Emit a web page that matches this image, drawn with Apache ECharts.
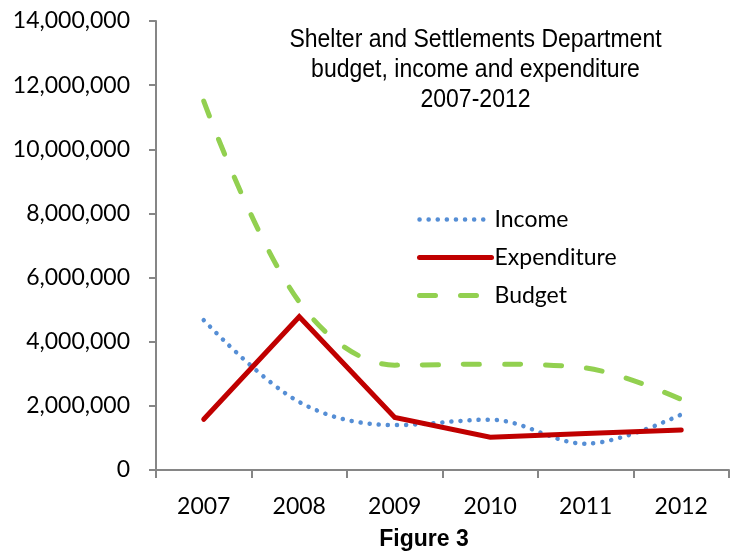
<!DOCTYPE html>
<html>
<head>
<meta charset="utf-8">
<script src="https://cdn.jsdelivr.net/npm/echarts@6/dist/echarts.min.js"></script>
<style>
  html, body { margin: 0; padding: 0; background: #fff; }
  #chart { width: 731px; height: 552px; }
</style>
</head>
<body>
<div id="chart"></div>
<script>
// Department finances by year
const years = ['2007', '2008', '2009', '2010', '2011', '2012'];
const income = [4670000, 2120000, 1400000, 1570000, 820000, 1730000];
const expenditure = [1580000, 4780000, 1640000, 1020000, 1140000, 1250000];
const budget = [11500000, 5240000, 3270000, 3300000, 3180000, 2200000];

const chartTitle = 'Shelter and Settlements Department\nbudget, income and expenditure\n2007-2012';
const caption = 'Figure 3';

const axisGray = '#868686';
const labelFont = 'Lato, "Open Sans", sans-serif';

const incomeLine = { color: '#558ED5', width: 4.5, type: [0.1, 9], cap: 'round' };
const expenditureLine = { color: '#C00000', width: 5, type: 'solid', cap: 'round', join: 'miter' };
const budgetLine = { color: '#92D050', width: 5, type: [16, 25], cap: 'round' };

const chart = echarts.init(document.getElementById('chart'), null, { renderer: 'canvas' });

chart.setOption({
  animation: false,
  backgroundColor: '#ffffff',
  title: {
    text: caption,
    left: 419,
    top: 523,
    textAlign: 'center',
    textStyle: {
      fontFamily: '"Liberation Sans", Arial, sans-serif',
      fontWeight: 'bold',
      fontSize: 23,
      color: '#000'
    }
  },
  // narrow-style heading: Arial-metric font squeezed horizontally
  graphic: [
    {
      type: 'text',
      x: 475.5,
      y: 25,
      scaleX: 0.885,
      style: {
        text: chartTitle,
        align: 'center',
        verticalAlign: 'top',
        font: '26px "Liberation Sans", Arial, sans-serif',
        lineHeight: 30,
        fill: '#000'
      }
    }
  ],
  legend: {
    orient: 'vertical',
    left: 412,
    top: 203,
    itemWidth: 72,
    itemHeight: 14,
    itemGap: 15,
    textStyle: { fontFamily: labelFont, fontSize: 23, color: '#000', padding: [0, 0, 0, -2] },
    data: [
      { name: 'Income', itemStyle: { opacity: 0 }, lineStyle: incomeLine },
      { name: 'Expenditure', itemStyle: { opacity: 0 }, lineStyle: expenditureLine },
      { name: 'Budget', itemStyle: { opacity: 0 }, lineStyle: budgetLine }
    ]
  },
  grid: { left: 156, right: 2, top: 21, bottom: 82, containLabel: false },
  xAxis: {
    type: 'category',
    data: years,
    boundaryGap: true,
    axisLine: { lineStyle: { color: axisGray, width: 2 } },
    axisTick: { show: true, length: 8, lineStyle: { color: axisGray, width: 2 } },
    axisLabel: { fontFamily: labelFont, fontSize: 23, color: '#000', margin: 25 },
    splitLine: { show: false }
  },
  yAxis: {
    type: 'value',
    min: 0,
    max: 14000000,
    interval: 2000000,
    axisLine: { show: true, lineStyle: { color: axisGray, width: 2 } },
    axisTick: { show: true, length: 7, lineStyle: { color: axisGray, width: 2 } },
    axisLabel: {
      fontFamily: labelFont, fontSize: 23, color: '#000', margin: 26,
      formatter: v => v.toLocaleString('en-US')
    },
    splitLine: { show: false }
  },
  series: [
    {
      name: 'Income',
      type: 'line',
      data: income,
      smooth: 0.35,
      symbol: 'none',
      color: '#558ED5',
      lineStyle: incomeLine,
      z: 3
    },
    {
      name: 'Expenditure',
      type: 'line',
      data: expenditure,
      smooth: false,
      symbol: 'none',
      color: '#C00000',
      lineStyle: expenditureLine,
      z: 4
    },
    {
      name: 'Budget',
      type: 'line',
      data: budget,
      smooth: 0.35,
      symbol: 'none',
      color: '#92D050',
      lineStyle: budgetLine,
      z: 2
    }
  ]
});
</script>
</body>
</html>
